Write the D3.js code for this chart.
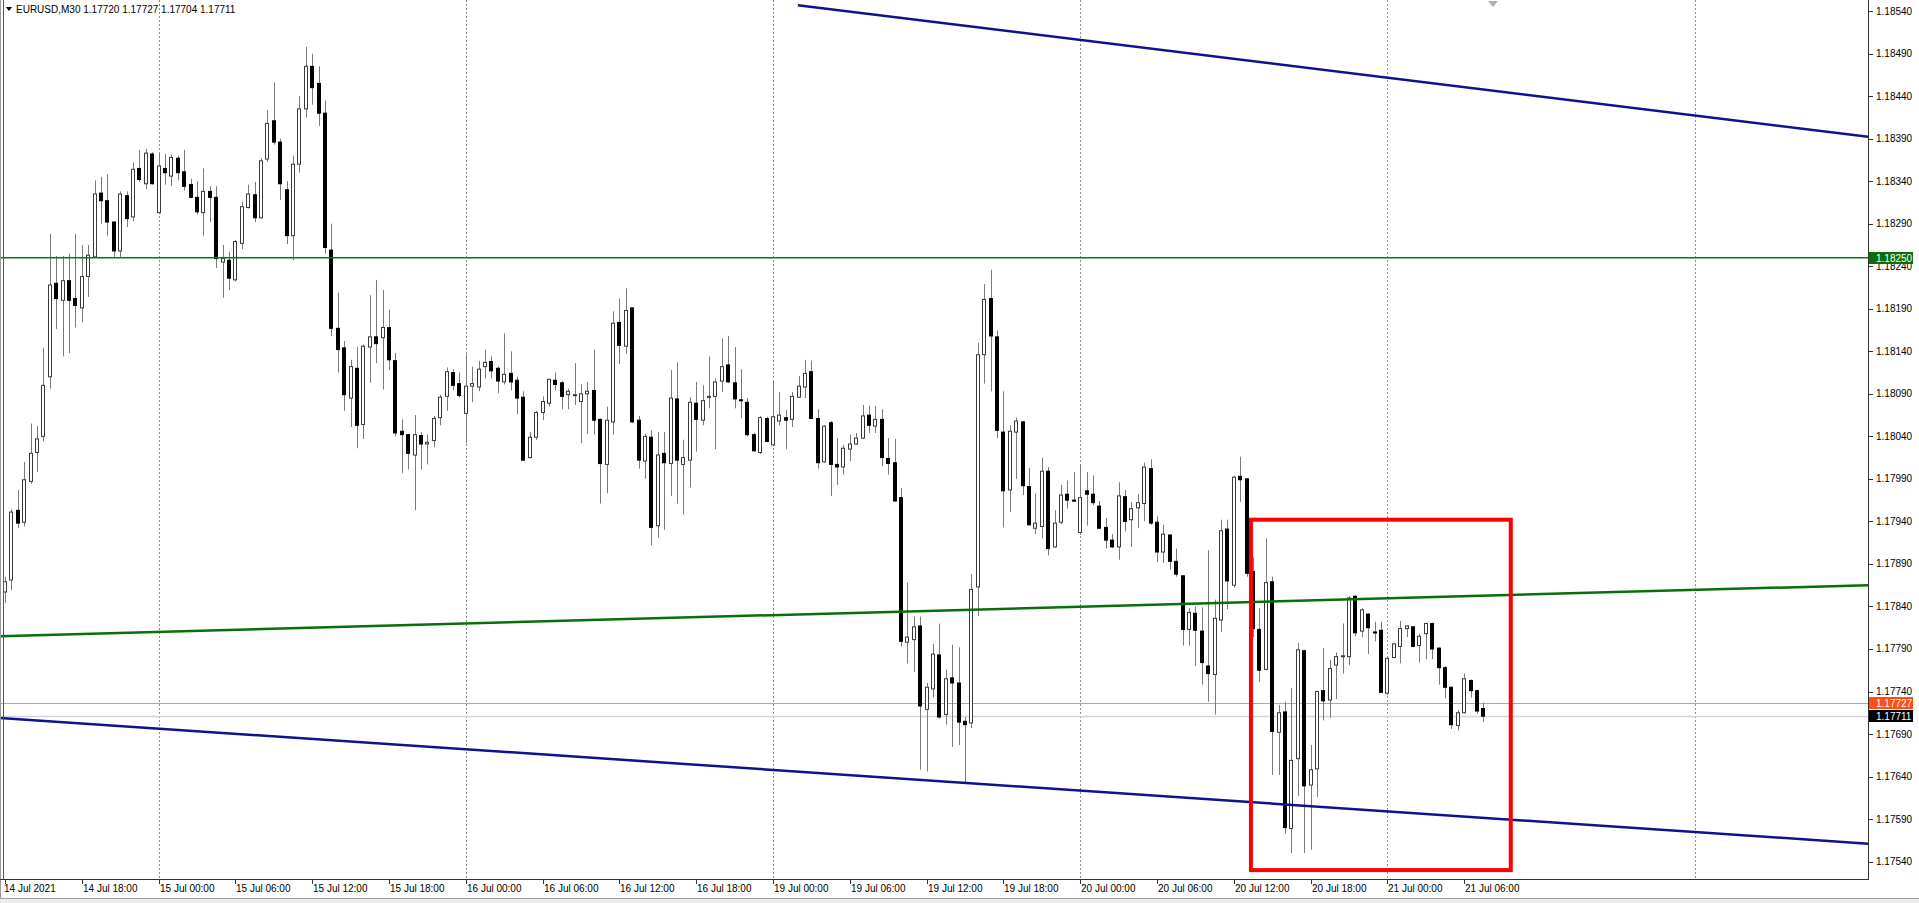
<!DOCTYPE html>
<html><head><meta charset="utf-8">
<script src="https://cdn.jsdelivr.net/npm/d3@7"></script>
<style>html,body{margin:0;padding:0;background:#fff;overflow:hidden}svg{display:block}</style>
</head><body>
<svg id="c" width="1919" height="903"></svg>
<script>
const symbolTitle = "EURUSD,M30";
const headerQuote = [1.17720, 1.17727, 1.17704, 1.17711];
const timeLabels = ["14 Jul 2021","14 Jul 18:00","15 Jul 00:00","15 Jul 06:00","15 Jul 12:00","15 Jul 18:00","16 Jul 00:00","16 Jul 06:00","16 Jul 12:00","16 Jul 18:00","19 Jul 00:00","19 Jul 06:00","19 Jul 12:00","19 Jul 18:00","20 Jul 00:00","20 Jul 06:00","20 Jul 12:00","20 Jul 18:00","21 Jul 00:00","21 Jul 06:00"];
const timeLabelBars = [0,12,24,36,48,60,72,84,96,108,120,132,144,156,168,180,192,204,216,228];
const daySeparatorBars = [24,72,120,168,216,264];
const priceTicks = [1.17540,1.17590,1.17640,1.17690,1.17740,1.17790,1.17840,1.17890,1.17940,1.17990,1.18040,1.18090,1.18140,1.18190,1.18240,1.18290,1.18340,1.18390,1.18440,1.18490,1.18540];

// first bar of the arrays is the partly hidden bar at 14 Jul 11:30 (bar -1)
const firstBar = -1;
const opens = [1.17762,
1.17857,1.17871,1.17953,1.17939,1.17987,1.18021,1.18040,1.18110,1.18220,1.18200,
1.18223,1.18202,1.18191,1.18228,1.18251,1.18326,1.18317,1.18292,1.18258,1.18323,
1.18298,1.18355,1.18337,1.18372,1.18303,1.18355,1.18346,1.18367,1.18351,1.18336,
1.18321,1.18303,1.18328,1.18321,1.18245,1.18247,1.18224,1.18267,1.18309,1.18324,
1.18297,1.18366,1.18411,1.18386,1.18330,1.18276,1.18360,1.18425,1.18475,1.18455,
1.18420,1.18259,1.18167,1.18144,1.18085,1.18120,1.18054,1.18145,1.18157,1.18156,
1.18168,1.18129,1.18046,1.18042,1.18018,1.18041,1.18031,1.18035,1.18062,1.18087,
1.18115,1.18102,1.18067,1.18099,1.18098,1.18122,1.18128,1.18120,1.18104,1.18114,
1.18106,1.18086,1.18015,1.18039,1.18068,1.18079,1.18106,1.18103,1.18089,1.18088,
1.18081,1.18090,1.18094,1.18060,1.18007,1.18057,1.18174,1.18146,1.18191,1.18059,
1.18011,1.18039,1.17935,1.18020,1.18008,1.18084,1.18007,1.18012,1.18079,1.18059,
1.18086,1.18087,1.18105,1.18124,1.18103,1.18083,1.18080,1.18042,1.18021,1.18061,
1.18030,1.18058,1.18062,1.18060,1.18086,1.18098,1.18116,1.18061,1.18010,1.18056,
1.18007,1.18004,1.18025,1.18031,1.18038,1.18065,1.18052,1.18060,1.18014,1.18009,
1.17968,1.17798,1.17801,1.17817,1.17719,1.17743,1.17783,1.17713,1.17756,1.17750,
1.17705,1.17703,1.17863,1.18136,1.18202,1.18157,1.18045,1.17977,1.18045,1.18057,
1.17981,1.17932,1.17934,1.17999,1.17910,1.17939,1.17972,1.17965,1.17927,1.17976,
1.17972,1.17958,1.17933,1.17918,1.17910,1.17969,1.17942,1.17956,1.17961,1.18002,
1.17939,1.17904,1.17924,1.17893,1.17876,1.17813,1.17832,1.17811,1.17770,1.17760,
1.17824,1.17931,1.17865,1.17993,1.17990,1.17881,1.17813,1.17766,1.17869,1.17692,
1.17716,1.17579,1.17661,1.17788,1.17630,1.17649,1.17741,1.17730,1.17771,1.17781,
1.17781,1.17852,1.17811,1.17831,1.17810,1.17812,1.17738,1.17780,1.17793,1.17814,
1.17816,1.17794,1.17808,1.17820,1.17791,1.17768,1.17745,1.17700,1.17715,1.17753,
1.17741,1.17720];
const highs = [1.17862,
1.17875,1.17954,1.17977,1.18010,1.18055,1.18052,1.18144,1.18278,1.18252,1.18252,
1.18255,1.18278,1.18265,1.18265,1.18341,1.18345,1.18348,1.18293,1.18328,1.18328,
1.18362,1.18377,1.18378,1.18374,1.18372,1.18372,1.18371,1.18370,1.18377,1.18343,
1.18340,1.18355,1.18334,1.18334,1.18265,1.18257,1.18271,1.18316,1.18336,1.18339,
1.18367,1.18424,1.18456,1.18390,1.18340,1.18370,1.18440,1.18498,1.18490,1.18475,
1.18435,1.18290,1.18209,1.18152,1.18130,1.18145,1.18148,1.18206,1.18224,1.18212,
1.18189,1.18138,1.18060,1.18043,1.18065,1.18045,1.18042,1.18064,1.18089,1.18121,
1.18119,1.18115,1.18136,1.18122,1.18129,1.18142,1.18134,1.18122,1.18161,1.18140,
1.18110,1.18093,1.18045,1.18070,1.18087,1.18108,1.18115,1.18105,1.18096,1.18126,
1.18101,1.18104,1.18142,1.18061,1.18075,1.18187,1.18202,1.18214,1.18192,1.18064,
1.18043,1.18047,1.18045,1.18045,1.18118,1.18127,1.18036,1.18086,1.18104,1.18100,
1.18134,1.18108,1.18155,1.18158,1.18145,1.18119,1.18085,1.18044,1.18064,1.18063,
1.18104,1.18092,1.18071,1.18092,1.18111,1.18130,1.18129,1.18072,1.18053,1.18058,
1.18038,1.18030,1.18042,1.18044,1.18077,1.18076,1.18076,1.18072,1.18038,1.18037,
1.17979,1.17868,1.17828,1.17828,1.17750,1.17796,1.17820,1.17766,1.17795,1.17792,
1.17710,1.17878,1.18150,1.18219,1.18236,1.18164,1.18093,1.18053,1.18062,1.18058,
1.18003,1.17973,1.18015,1.18004,1.17953,1.17983,1.17988,1.17998,1.18007,1.17998,
1.17994,1.17964,1.17944,1.17925,1.17986,1.17977,1.17963,1.17972,1.18009,1.18013,
1.17946,1.17936,1.17925,1.17908,1.17877,1.17838,1.17840,1.17839,1.17906,1.17848,
1.17942,1.17942,1.17994,1.18016,1.17991,1.17898,1.17838,1.17920,1.17875,1.17724,
1.17728,1.17744,1.17797,1.17789,1.17677,1.17741,1.17791,1.17777,1.17786,1.17820,
1.17852,1.17853,1.17838,1.17832,1.17822,1.17822,1.17781,1.17797,1.17823,1.17818,
1.17817,1.17808,1.17821,1.17821,1.17792,1.17770,1.17746,1.17718,1.17761,1.17754,
1.17742,1.17727];
const lows = [1.17748,
1.17844,1.17859,1.17932,1.17934,1.17984,1.17998,1.18034,1.18096,1.18166,1.18134,
1.18138,1.18168,1.18174,1.18204,1.18250,1.18290,1.18276,1.18251,1.18251,1.18286,
1.18293,1.18339,1.18331,1.18336,1.18302,1.18336,1.18334,1.18341,1.18329,1.18320,
1.18301,1.18276,1.18292,1.18238,1.18203,1.18212,1.18222,1.18260,1.18308,1.18292,
1.18296,1.18363,1.18383,1.18318,1.18266,1.18247,1.18350,1.18415,1.18430,1.18405,
1.18255,1.18158,1.18115,1.18070,1.18051,1.18026,1.18037,1.18103,1.18126,1.18095,
1.18118,1.18040,1.17997,1.18001,1.17953,1.18001,1.18007,1.18027,1.18053,1.18070,
1.18094,1.18086,1.18032,1.18080,1.18093,1.18108,1.18108,1.18091,1.18101,1.18094,
1.18066,1.18011,1.18014,1.18036,1.18059,1.18075,1.18094,1.18072,1.18072,1.18077,
1.18032,1.18043,1.18042,1.17961,1.17973,1.18042,1.18125,1.18137,1.18056,1.18002,
1.17990,1.17912,1.17921,1.17930,1.17970,1.17961,1.17948,1.17980,1.18022,1.18053,
1.18073,1.18025,1.18092,1.18103,1.18073,1.18061,1.18040,1.18022,1.18019,1.18033,
1.18028,1.18053,1.18025,1.18051,1.18085,1.18085,1.18060,1.18002,1.18009,1.17970,
1.17983,1.17995,1.18011,1.18030,1.18037,1.18044,1.18044,1.18005,1.17995,1.17963,
1.17793,1.17773,1.17763,1.17648,1.17646,1.17733,1.17708,1.17701,1.17675,1.17677,
1.17632,1.17697,1.17829,1.18102,1.18093,1.18038,1.17933,1.17951,1.17990,1.17971,
1.17935,1.17925,1.17920,1.17900,1.17909,1.17937,1.17955,1.17963,1.17924,1.17935,
1.17959,1.17931,1.17908,1.17909,1.17895,1.17928,1.17910,1.17932,1.17940,1.17936,
1.17892,1.17891,1.17883,1.17875,1.17794,1.17794,1.17770,1.17748,1.17728,1.17713,
1.17810,1.17837,1.17862,1.17963,1.17875,1.17804,1.17751,1.17765,1.17642,1.17642,
1.17573,1.17550,1.17617,1.17550,1.17554,1.17616,1.17706,1.17709,1.17731,1.17761,
1.17771,1.17805,1.17804,1.17784,1.17799,1.17738,1.17736,1.17779,1.17773,1.17804,
1.17792,1.17774,1.17778,1.17778,1.17748,1.17732,1.17696,1.17694,1.17714,1.17733,
1.17714,1.17704];
const closes = [1.17857,
1.17869,1.17951,1.17938,1.17989,1.18020,1.18037,1.18100,1.18218,1.18202,1.18223,
1.18200,1.18194,1.18228,1.18253,1.18325,1.18317,1.18292,1.18258,1.18325,1.18296,
1.18354,1.18342,1.18373,1.18337,1.18358,1.18350,1.18368,1.18350,1.18334,1.18321,
1.18304,1.18328,1.18321,1.18249,1.18249,1.18226,1.18269,1.18310,1.18325,1.18297,
1.18364,1.18408,1.18386,1.18337,1.18276,1.18360,1.18425,1.18475,1.18450,1.18420,
1.18262,1.18167,1.18142,1.18089,1.18122,1.18053,1.18146,1.18157,1.18149,1.18168,
1.18130,1.18044,1.18042,1.18020,1.18042,1.18031,1.18033,1.18061,1.18086,1.18116,
1.18100,1.18088,1.18099,1.18102,1.18119,1.18127,1.18117,1.18105,1.18113,1.18104,
1.18085,1.18012,1.18039,1.18068,1.18081,1.18107,1.18101,1.18087,1.18093,1.18089,
1.18090,1.18093,1.18059,1.18008,1.18059,1.18173,1.18147,1.18188,1.18057,1.18012,
1.18040,1.17933,1.18018,1.18009,1.18085,1.18012,1.18015,1.18080,1.18060,1.18082,
1.18087,1.18104,1.18122,1.18104,1.18084,1.18082,1.18042,1.18023,1.18062,1.18034,
1.18063,1.18065,1.18059,1.18087,1.18099,1.18114,1.18061,1.18009,1.18052,1.18007,
1.18004,1.18026,1.18031,1.18038,1.18064,1.18053,1.18060,1.18015,1.18008,1.17964,
1.17799,1.17804,1.17816,1.17723,1.17745,1.17784,1.17710,1.17755,1.17750,1.17704,
1.17701,1.17860,1.18136,1.18201,1.18158,1.18047,1.17976,1.18046,1.18058,1.17982,
1.17936,1.17938,1.17999,1.17908,1.17938,1.17971,1.17965,1.17964,1.17968,1.17972,
1.17962,1.17932,1.17918,1.17910,1.17970,1.17940,1.17955,1.17962,1.18004,1.17938,
1.17904,1.17925,1.17893,1.17878,1.17813,1.17833,1.17812,1.17774,1.17761,1.17826,
1.17929,1.17870,1.17992,1.17989,1.17879,1.17814,1.17765,1.17868,1.17693,1.17715,
1.17580,1.17659,1.17789,1.17629,1.17648,1.17740,1.17729,1.17767,1.17781,1.17782,
1.17850,1.17809,1.17836,1.17815,1.17809,1.17739,1.17779,1.17796,1.17814,1.17817,
1.17793,1.17805,1.17820,1.17790,1.17768,1.17745,1.17701,1.17715,1.17755,1.17741,
1.17717,1.17711];

// drawn objects: [barIndex, price]
const blueTopLine = [[123.8, 1.18547], [291.2, 1.18392]];
const blueBottomLine = [[-1, 1.17709], [291.2, 1.17561]];
const greenSlopeLine = [[-1, 1.17805], [291.2, 1.17865]];
const greenLevel = 1.18250;
const askPrice = 1.17727;
const bidPrice = 1.17711;
const redBox = [[194.6, 1.17942], [235.2, 1.17530]];

const W = 1919, H = 903, plotR = 1868, plotB = 879;
const FONT = "'Liberation Sans', Arial, sans-serif";
const svg = d3.select("#c");
const x = d3.scaleLinear().domain([0, 100]).range([5.5, 645.5]);
const y = d3.scaleLinear().domain([1.1754, 1.1854]).range([861.6, 11.1]);
const fmt = d3.format(".5f");

svg.append("rect").attr("width", W).attr("height", H).attr("fill", "#fff");
svg.append("defs").append("clipPath").attr("id", "plot")
  .append("rect").attr("x", 0).attr("y", 0).attr("width", plotR).attr("height", plotB);

const plot = svg.append("g").attr("clip-path", "url(#plot)");

// day separators
plot.selectAll("line.sep").data(daySeparatorBars).join("line")
  .attr("x1", d => Math.floor(x(d)) + 0.5).attr("x2", d => Math.floor(x(d)) + 0.5)
  .attr("y1", 0).attr("y2", plotB)
  .attr("stroke", "#8c8c8c").attr("stroke-width", 1).attr("stroke-dasharray", "2,2");

// bid line (gray) and ask line (orange)
plot.append("line").attr("x1", 0).attr("x2", plotR)
  .attr("y1", Math.round(y(bidPrice)) + 0.5).attr("y2", Math.round(y(bidPrice)) + 0.5)
  .attr("stroke", "#d4d4d4").attr("stroke-width", 1.5);
plot.append("line").attr("x1", 0).attr("x2", plotR)
  .attr("y1", Math.round(y(askPrice)) + 0.5).attr("y2", Math.round(y(askPrice)) + 0.5)
  .attr("stroke", "#ff8a5c").attr("stroke-width", 1);

// candles
const bars = d3.range(opens.length).map(k => ({i: k + firstBar, o: opens[k], h: highs[k], l: lows[k], c: closes[k]}));
const cg = plot.append("g");
cg.selectAll("line.wick").data(bars).join("line")
  .attr("x1", d => Math.floor(x(d.i)) + 0.5).attr("x2", d => Math.floor(x(d.i)) + 0.5)
  .attr("y1", d => y(d.h)).attr("y2", d => y(d.l))
  .attr("stroke", "#7a7a7a").attr("stroke-width", 1);
cg.selectAll("rect.body").data(bars).join("rect")
  .attr("x", d => Math.floor(x(d.i)) - 1.5)
  .attr("width", 3)
  .attr("y", d => y(Math.max(d.o, d.c)))
  .attr("height", d => Math.max(1, Math.abs(y(d.o) - y(d.c))))
  .attr("fill", d => d.c >= d.o ? "#fff" : "#000")
  .attr("stroke", d => d.c >= d.o ? "#3a3a3a" : "#000")
  .attr("stroke-width", 1);

// horizontal green level
plot.append("line").attr("x1", 0).attr("x2", plotR)
  .attr("y1", y(greenLevel)).attr("y2", y(greenLevel))
  .attr("stroke", "#0b7a0b").attr("stroke-width", 1.5);

const lineGen = d3.line().x(d => x(d[0])).y(d => y(d[1]));
plot.append("path").attr("d", lineGen(greenSlopeLine)).attr("fill", "none")
  .attr("stroke", "#0a6e0a").attr("stroke-width", 2.5);
plot.append("path").attr("d", lineGen(blueTopLine)).attr("fill", "none")
  .attr("stroke", "#101090").attr("stroke-width", 2.5);
plot.append("path").attr("d", lineGen(blueBottomLine)).attr("fill", "none")
  .attr("stroke", "#101090").attr("stroke-width", 2.5);

// red rectangle
plot.append("rect")
  .attr("x", x(redBox[0][0])).attr("y", y(redBox[0][1]))
  .attr("width", x(redBox[1][0]) - x(redBox[0][0]))
  .attr("height", y(redBox[1][1]) - y(redBox[0][1]))
  .attr("fill", "none").attr("stroke", "#ff0000").attr("stroke-width", 4);

// chart shift marker
svg.append("path").attr("d", "M1488,1 L1498,1 L1493,7 Z").attr("fill", "#b0b0b0");

// frame
svg.append("line").attr("x1", 3.5).attr("x2", 3.5).attr("y1", 0).attr("y2", plotB).attr("stroke", "#555").attr("stroke-width", 1);
svg.append("line").attr("x1", 0.5).attr("x2", 0.5).attr("y1", 0).attr("y2", H).attr("stroke", "#9a9a9a").attr("stroke-width", 1);
svg.append("line").attr("x1", plotR + 0.5).attr("x2", plotR + 0.5).attr("y1", 0).attr("y2", plotB + 1).attr("stroke", "#333").attr("stroke-width", 1);
svg.append("line").attr("x1", 0).attr("x2", plotR + 1).attr("y1", plotB + 0.5).attr("y2", plotB + 0.5).attr("stroke", "#333").attr("stroke-width", 1);
svg.append("rect").attr("x", 0).attr("y", 898).attr("width", W).attr("height", 5).attr("fill", "#ececec");
svg.append("line").attr("x1", 0).attr("x2", W).attr("y1", 898.5).attr("y2", 898.5).attr("stroke", "#a0a0a0");

// price axis
const ya = svg.append("g");
ya.selectAll("line").data(priceTicks).join("line")
  .attr("x1", plotR + 1).attr("x2", plotR + 5)
  .attr("y1", d => Math.round(y(d)) + 0.5).attr("y2", d => Math.round(y(d)) + 0.5)
  .attr("stroke", "#333");
ya.selectAll("text").data(priceTicks).join("text")
  .attr("x", plotR + 8).attr("y", d => y(d) + 3.5)
  .attr("font-family", FONT).attr("font-size", 10).attr("fill", "#000")
  .text(d => fmt(d));

// price boxes
function priceBox(p, bg) {
  const cy = Math.round(y(p));
  svg.append("rect").attr("x", plotR + 1).attr("y", cy - 6).attr("width", 44).attr("height", 12).attr("fill", bg);
  svg.append("text").attr("x", plotR + 8).attr("y", cy + 3.5)
    .attr("font-family", FONT).attr("font-size", 10).attr("fill", "#fff").text(fmt(p));
}
priceBox(greenLevel, "#0b6e0b");
priceBox(askPrice, "#ff4f17");
priceBox(bidPrice, "#000");

// time axis
const xa = svg.append("g");
xa.selectAll("line").data(timeLabelBars).join("line")
  .attr("x1", d => Math.floor(x(d)) + 0.5).attr("x2", d => Math.floor(x(d)) + 0.5)
  .attr("y1", plotB + 1).attr("y2", plotB + 5).attr("stroke", "#333");
xa.selectAll("text").data(timeLabels).join("text")
  .attr("x", (d, i) => Math.floor(x(timeLabelBars[i])) + (i === 0 ? -1 : 1))
  .attr("y", plotB + 13)
  .attr("font-family", FONT).attr("font-size", 10).attr("fill", "#000")
  .text(d => d);

// header
svg.append("path").attr("d", "M6,7 L12,7 L9,11 Z").attr("fill", "#000");
svg.append("text").attr("x", 16).attr("y", 13)
  .attr("font-family", FONT).attr("font-size", 10).attr("fill", "#000")
  .text(symbolTitle + "  " + headerQuote.map(fmt).join(" "));
</script>
</body></html>
